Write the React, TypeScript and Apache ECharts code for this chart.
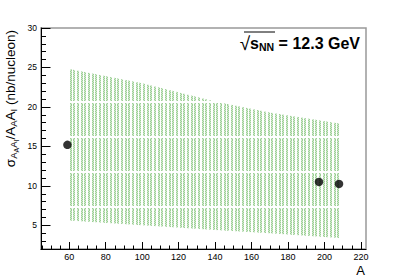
import React, { useEffect, useRef } from 'react';
import * as echarts from 'echarts';

// Band (theory) boundaries
const bandA = [60, 100, 140, 170, 208];
const bandUpper = [24.8, 23.0, 20.7, 19.3, 17.9];
const bandLower = [5.6, 5.0, 4.4, 4.0, 3.4];

// Data points
const pointA = [59, 197, 208];
const pointSigma = [15.2, 10.5, 10.25];

// Ticks
const xTickValues = [60, 80, 100, 120, 140, 160, 180, 200, 220];
const xMinorValues = [45, 50, 55, 65, 70, 75, 85, 90, 95, 105, 110, 115, 125, 130, 135, 145, 150, 155, 165, 170, 175, 185, 190, 195, 205, 210, 215];
const yTickValues = [5, 10, 15, 20, 25, 30];
const yMinorValues = [3, 4, 6, 7, 8, 9, 11, 12, 13, 14, 16, 17, 18, 19, 21, 22, 23, 24, 26, 27, 28, 29];

const FONT = '"Liberation Sans", Arial, Helvetica, sans-serif';

function makeHatch(): string {
  const w = 11, h = 35;
  const c = document.createElement('canvas');
  c.width = w; c.height = h;
  const ctx = c.getContext('2d')!;
  const cols = [0, 1, 4, 5, 7, 8];
  for (let y = 0; y < h; y++) {
    if (y === 31 || y === 32) continue;
    for (const x of cols) {
      ctx.fillStyle = (x + y) % 2 ? '#9ccf95' : '#d0e9cc';
      ctx.fillRect(x, y, 1, 1);
    }
  }
  return c.toDataURL();
}

export default function App() {
  const ref = useRef<HTMLDivElement>(null);
  useEffect(() => {
    if (!ref.current) return;
    const chart = echarts.init(ref.current, null, { renderer: 'svg' });
    const pattern: any = { image: makeHatch(), repeat: 'repeat', imageWidth: 11, imageHeight: 35 };
    const axisCommon = {
      type: 'value' as const,
      splitLine: { show: false },
    };
    chart.setOption({
      animation: false,
      grid: { left: 41, right: 41, top: 28, bottom: 29, show: true, borderColor: '#999', borderWidth: 1.5, backgroundColor: 'transparent' },
      xAxis: [
        {
          ...axisCommon, min: 44.5, max: 222.8, position: 'bottom',
          axisLine: { show: true, lineStyle: { color: '#000', width: 1 } },
          axisTick: { show: true, inside: true, length: 7, customValues: xTickValues, lineStyle: { color: '#000' } },
          axisLabel: { customValues: xTickValues, color: '#000', fontSize: 9, fontFamily: FONT, margin: 3 },
        },
        {
          ...axisCommon, min: 44.5, max: 222.8, position: 'bottom',
          axisLine: { show: false },
          axisTick: { show: true, inside: true, length: 3.5, customValues: xMinorValues, lineStyle: { color: '#000' } },
          axisLabel: { show: false },
        },
      ],
      yAxis: [
        {
          ...axisCommon, min: 2, max: 30, position: 'left',
          axisLine: { show: true, lineStyle: { color: '#000', width: 1 } },
          axisTick: { show: true, inside: true, length: 9.5, customValues: yTickValues, lineStyle: { color: '#000' } },
          axisLabel: { customValues: yTickValues, color: '#000', fontSize: 8.5, fontFamily: FONT, margin: 4 },
        },
        {
          ...axisCommon, min: 2, max: 30, position: 'left',
          axisLine: { show: false },
          axisTick: { show: true, inside: true, length: 5, customValues: yMinorValues, lineStyle: { color: '#000' } },
          axisLabel: { show: false },
        },
      ],
      series: [
        {
          type: 'custom',
          xAxisIndex: 0, yAxisIndex: 0,
          silent: true,
          clip: true,
          data: bandA.map((a, i) => [a, bandLower[i], bandUpper[i]]),
          encode: { x: 0, y: [1, 2] },
          renderItem: (params: any, api: any) => {
            if (params.dataIndex !== 0) return null;
            const pts: number[][] = [];
            for (let i = 0; i < bandA.length; i++) pts.push(api.coord([bandA[i], bandUpper[i]]));
            for (let i = bandA.length - 1; i >= 0; i--) pts.push(api.coord([bandA[i], bandLower[i]]));
            return { type: 'polygon', shape: { points: pts }, style: { fill: pattern, stroke: 'none' } };
          },
          z: 1,
        },
        {
          type: 'scatter',
          xAxisIndex: 0, yAxisIndex: 0,
          data: pointA.map((a, i) => [a, pointSigma[i]]),
          symbol: 'circle',
          symbolSize: 8.5,
          itemStyle: { color: '#000' },
          z: 5,
        },
      ],
      graphic: [
        {
          type: 'text',
          x: 10, y: 30,
          rotation: Math.PI / 2,
          style: {
            text: '{m|σ}{s|A}{ss|A}{s|A}{ss|I}{m|/A}{s|A}{m|A}{s|I}{m| (nb/nucleon)}',
            align: 'right',
            verticalAlign: 'middle',
            fontFamily: FONT,
            fill: '#000',
            rich: {
              m: { fontSize: 13.5, lineHeight: 20, verticalAlign: 'middle', fontFamily: FONT, fill: '#000' },
              s: { fontSize: 9.5, lineHeight: 9, verticalAlign: 'bottom', padding: [0, 0, 2, 0], fontFamily: FONT, fill: '#000' },
              ss: { fontSize: 7, lineHeight: 7, verticalAlign: 'bottom', fontFamily: FONT, fill: '#000' },
            },
          },
        },
        {
          type: 'text',
          x: 365, y: 270,
          style: { text: 'A', fontSize: 13, fontFamily: FONT, fill: '#000', align: 'right', verticalAlign: 'middle' },
        },
        {
          type: 'text',
          x: 360, y: 43,
          style: {
            text: '{r|√}{b|s}{sb|NN}{b| = 12.3 GeV}',
            align: 'right',
            verticalAlign: 'middle',
            fontFamily: FONT,
            rich: {
              r: { fontSize: 19, lineHeight: 22, verticalAlign: 'middle', fontFamily: FONT, fill: '#000' },
              b: { fontSize: 16, fontWeight: 'bold', lineHeight: 22, verticalAlign: 'middle', fontFamily: FONT, fill: '#000' },
              sb: { fontSize: 10.5, fontWeight: 'bold', lineHeight: 10, verticalAlign: 'bottom', padding: [0, 0, 2, 0], fontFamily: FONT, fill: '#000' },
            },
          },
        },
        {
          type: 'line',
          shape: { x1: 244, y1: 32, x2: 275, y2: 32 },
          style: { stroke: '#000', lineWidth: 1 },
        },
      ],
    });
    return () => chart.dispose();
  }, []);
  return <div ref={ref} style={{ position: 'fixed', left: 0, top: 0, width: 407, height: 278, background: '#fff' }} />;
}
